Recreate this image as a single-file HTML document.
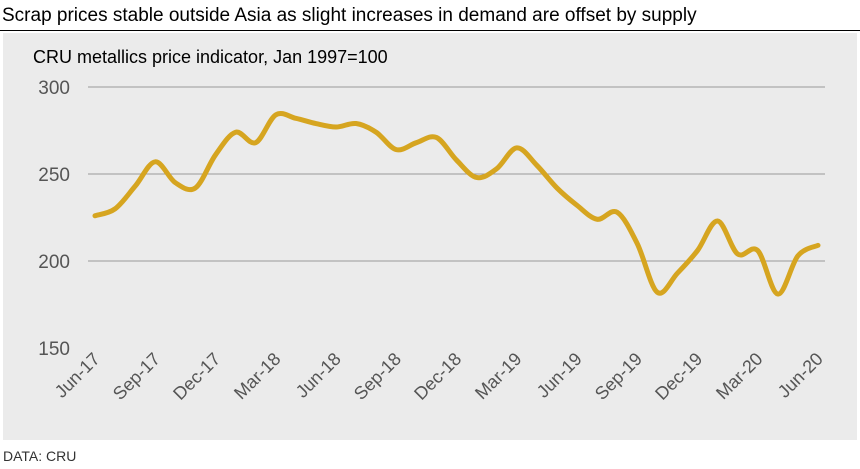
<!DOCTYPE html>
<html><head><meta charset="utf-8">
<style>
body{margin:0;background:#fff;font-family:"Liberation Sans",Arial,sans-serif;}
#wrap{position:relative;width:860px;height:469px;overflow:hidden;}
</style></head>
<body>
<div id="wrap">
<svg id="chart" width="860" height="469">
  <text x="2" y="21" font-size="19" fill="#000">Scrap prices stable outside Asia as slight increases in demand are offset by supply</text>
  <line x1="0" y1="30.5" x2="860" y2="30.5" stroke="#000" stroke-width="1"/>
  <rect x="3" y="33" width="854" height="407" fill="#ebebeb"/>
  <text x="33" y="63" font-size="18" fill="#000">CRU metallics price indicator, Jan 1997=100</text>
  <g id="grid"></g><g id="ylabels"></g><g id="xlabels"></g>
  <path id="series" fill="none" stroke="#d6a520" stroke-width="5" stroke-linecap="round" stroke-linejoin="round"/>
  <text x="3" y="461" font-size="14" fill="#333">DATA: CRU</text>
</svg>
</div>
<script>
const categories=["Jun-17","Jul-17","Aug-17","Sep-17","Oct-17","Nov-17","Dec-17","Jan-18","Feb-18","Mar-18","Apr-18","May-18","Jun-18","Jul-18","Aug-18","Sep-18","Oct-18","Nov-18","Dec-18","Jan-19","Feb-19","Mar-19","Apr-19","May-19","Jun-19","Jul-19","Aug-19","Sep-19","Oct-19","Nov-19","Dec-19","Jan-20","Feb-20","Mar-20","Apr-20","May-20","Jun-20"];
const values=[226,230,243,257,245,242,261,274,268,284,282,279,277,279,274,264,268,271,258,248,253,265,255,242,232,224,228,210,182,193,206,223,204,206,181,203,209];
const yTicks=[150,200,250,300];
const xLabelIdx=[0,3,6,9,12,15,18,21,24,27,30,33,36];
const NS="http://www.w3.org/2000/svg";
const x0=95,x1=818,yBase=348,yTop=87,vMin=150,vMax=300;
function xs(i){return x0+(x1-x0)*i/(categories.length-1);}
function ys(v){return yBase-(v-vMin)/(vMax-vMin)*(yBase-yTop);}
const grid=document.getElementById('grid'),yl=document.getElementById('ylabels'),xl=document.getElementById('xlabels');
yTicks.forEach(t=>{
  if(t>vMin){const l=document.createElementNS(NS,'line');
  l.setAttribute('x1',88);l.setAttribute('x2',825);l.setAttribute('y1',ys(t));l.setAttribute('y2',ys(t));
  l.setAttribute('stroke','#999');l.setAttribute('stroke-width','1');
  
  
  grid.appendChild(l);}
  const tx=document.createElementNS(NS,'text');
  tx.setAttribute('x',70);tx.setAttribute('y',ys(t)+7);tx.setAttribute('text-anchor','end');
  tx.setAttribute('font-size','19');tx.setAttribute('fill','#555');tx.textContent=t;
  
  
  yl.appendChild(tx);
});
xLabelIdx.forEach(i=>{
  const tx=document.createElementNS(NS,'text');
  const x=xs(i)+6,y=360;
  tx.setAttribute('x',x);tx.setAttribute('y',y);tx.setAttribute('text-anchor','end');
  tx.setAttribute('transform','rotate(-45 '+x+' '+y+')');
  tx.setAttribute('font-size','18');tx.setAttribute('fill','#555');tx.textContent=categories[i];
  
  
  xl.appendChild(tx);
});
const pts=values.map((v,i)=>[xs(i),ys(v)]);
let d='M'+pts[0][0]+','+pts[0][1];
for(let i=0;i<pts.length-1;i++){
  const p0=pts[Math.max(0,i-1)],p1=pts[i],p2=pts[i+1],p3=pts[Math.min(pts.length-1,i+2)];
  const c1=[p1[0]+(p2[0]-p0[0])/6,p1[1]+(p2[1]-p0[1])/6];
  const c2=[p2[0]-(p3[0]-p1[0])/6,p2[1]-(p3[1]-p1[1])/6];
  d+=' C'+c1+' '+c2+' '+p2;
}
document.getElementById('series').setAttribute('d',d);
</script>
</body></html>
